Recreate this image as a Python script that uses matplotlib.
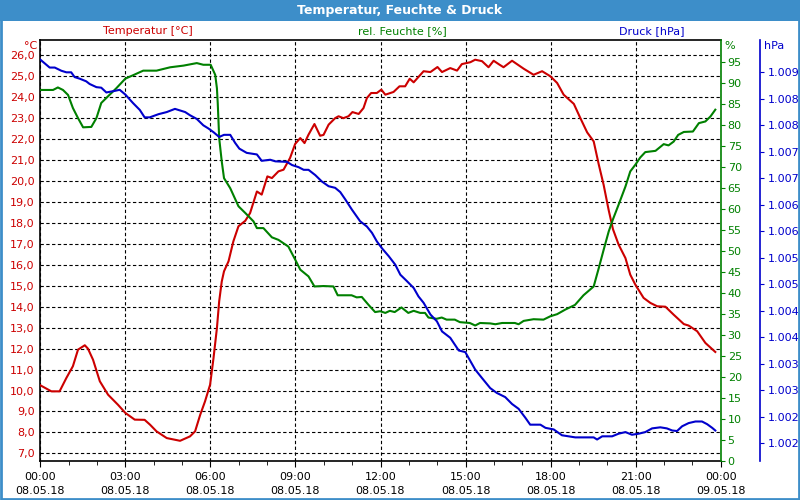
import matplotlib
matplotlib.use('Agg')
import matplotlib.pyplot as plt
from matplotlib.patches import Rectangle

# Temperatur [°C] (Stunden seit 00:00)
temp_hours = [0.0, 0.39, 0.68, 0.92, 1.15, 1.33, 1.57, 1.68, 1.86, 2.1, 2.39, 2.74, 3.0, 3.33,
              3.68, 3.87, 4.1, 4.46, 4.93, 5.28, 5.46, 5.64, 5.81, 5.99, 6.11, 6.23, 6.31, 6.4,
              6.48, 6.64, 6.81, 6.99, 7.23, 7.4, 7.64, 7.81, 8.01, 8.17, 8.4, 8.58, 8.81, 8.99,
              9.17, 9.32, 9.46, 9.67, 9.87, 9.99, 10.17, 10.4, 10.52, 10.69, 10.87, 11.01, 11.23,
              11.4, 11.52, 11.67, 11.87, 12.03, 12.17, 12.46, 12.67, 12.87, 13.03, 13.17, 13.52,
              13.76, 14.01, 14.17, 14.46, 14.7, 14.87, 15.17, 15.34, 15.58, 15.81, 15.99, 16.2,
              16.34, 16.64, 17.05, 17.4, 17.7, 17.99, 18.23, 18.46, 18.82, 19.05, 19.29, 19.52,
              19.7, 19.87, 20.05, 20.2, 20.4, 20.64, 20.81, 20.99, 21.28, 21.52, 21.76, 22.05,
              22.34, 22.7, 22.87, 23.17, 23.46, 23.81]
temp_values = [10.25, 9.96, 9.96, 10.6, 11.16, 11.95, 12.16, 12.0, 11.47, 10.44, 9.8, 9.32, 8.93, 8.61,
               8.6, 8.37, 8.05, 7.73, 7.6, 7.81, 8.05, 8.84, 9.48, 10.28, 11.55, 12.98, 14.26, 15.2,
               15.69, 16.17, 17.12, 17.84, 18.1, 18.47, 19.5, 19.35, 20.22, 20.14, 20.46, 20.54, 21.1, 21.77,
               22.05, 21.81, 22.21, 22.72, 22.16, 22.2, 22.69, 23.0, 23.09, 23.0, 23.09, 23.29, 23.2,
               23.48, 23.96, 24.2, 24.2, 24.36, 24.12, 24.25, 24.52, 24.52, 24.88, 24.71, 25.24,
               25.2, 25.44, 25.2, 25.39, 25.27, 25.58, 25.67, 25.79, 25.72, 25.43, 25.74, 25.55,
               25.43, 25.74, 25.36, 25.07, 25.24, 25.0, 24.68, 24.12, 23.68, 23.0, 22.32, 21.89,
               20.78, 19.82, 18.6, 17.7, 16.96, 16.32, 15.53, 15.05, 14.42, 14.18, 14.02, 14.0,
               13.62, 13.17, 13.1, 12.83, 12.27, 11.84]

# rel. Feuchte [%]
hum_hours = [0.0, 0.45, 0.62, 0.8, 0.98, 1.15, 1.33, 1.51, 1.8, 1.98, 2.15, 2.39, 2.68, 3.0, 3.27,
             3.63, 4.1, 4.58, 5.05, 5.52, 5.75, 6.01, 6.17, 6.23, 6.26, 6.31, 6.4, 6.48, 6.7, 6.99,
             7.23, 7.52, 7.64, 7.87, 8.17, 8.4, 8.75, 8.99, 9.17, 9.46, 9.67, 9.99, 10.34, 10.49,
             10.98, 11.16, 11.34, 11.58, 11.81, 11.99, 12.17, 12.33, 12.5, 12.74, 12.98, 13.17,
             13.4, 13.57, 13.69, 13.98, 14.16, 14.33, 14.62, 14.8, 15.15, 15.34, 15.51, 15.87,
             16.05, 16.29, 16.74, 16.87, 17.05, 17.4, 17.75, 17.99, 18.23, 18.52, 18.86, 19.16,
             19.52, 19.7, 19.87, 20.05, 20.2, 20.4, 20.64, 20.81, 20.99, 21.16, 21.34, 21.7,
             21.99, 22.16, 22.34, 22.5, 22.7, 23.02, 23.23, 23.46, 23.64, 23.81]
hum_values = [88.3, 88.3, 88.9, 88.3, 87.1, 84.0, 81.6, 79.4, 79.5, 81.6, 85.2, 86.8, 88.7, 91.0, 91.8,
              92.9, 92.9, 93.7, 94.1, 94.7, 94.3, 94.3, 91.9, 88.7, 85.0, 76.8, 71.3, 67.3, 64.9, 60.6,
              59.0, 57.0, 55.4, 55.4, 53.2, 52.6, 51.0, 47.9, 45.5, 43.9, 41.5, 41.6, 41.5, 39.4,
              39.4, 38.9, 39.0, 37.1, 35.4, 35.6, 35.2, 35.7, 35.4, 36.5, 35.2, 35.7,
              35.2, 35.2, 34.1, 33.8, 34.1, 33.6, 33.6, 33.0, 32.8, 32.2, 32.8, 32.7,
              32.5, 32.8, 32.8, 32.5, 33.3, 33.7, 33.6, 34.4, 34.9, 36.0, 37.1, 39.4,
              41.5, 45.9, 50.2, 54.6, 57.5, 61.0, 65.3, 68.9, 70.5, 72.2, 73.5, 73.8,
              75.4, 75.1, 76.0, 77.6, 78.3, 78.4, 80.4, 80.8, 82.0, 83.6]

# Druck [hPa]
press_hours = [0.0, 0.33, 0.51, 0.74, 0.92, 1.09, 1.21, 1.39, 1.62, 1.74, 1.98, 2.15, 2.33, 2.63, 2.8,
               3.0, 3.27, 3.51, 3.68, 3.86, 4.17, 4.46, 4.75, 4.93, 5.11, 5.28, 5.52, 5.75, 5.93,
               6.11, 6.31, 6.48, 6.7, 6.87, 7.02, 7.28, 7.64, 7.81, 8.11, 8.29, 8.7, 8.88, 9.11,
               9.29, 9.46, 9.7, 9.93, 10.17, 10.4, 10.58, 10.76, 10.99, 11.28, 11.52, 11.7, 11.87,
               12.05, 12.29, 12.52, 12.7, 12.93, 13.17, 13.34, 13.52, 13.76, 13.99, 14.17, 14.46,
               14.76, 14.99, 15.17, 15.34, 15.58, 15.87, 16.1, 16.4, 16.64, 16.87, 17.11, 17.28,
               17.64, 17.82, 18.11, 18.4, 18.87, 19.52, 19.64, 19.82, 20.17, 20.4, 20.64, 20.87,
               21.11, 21.34, 21.58, 21.87, 22.1, 22.29, 22.46, 22.64, 22.87, 23.11, 23.34, 23.52,
               23.7, 23.81]
press_values = [1009.24, 1009.09, 1009.09, 1009.03, 1009.0, 1009.0, 1008.91, 1008.88, 1008.83, 1008.78,
                1008.72, 1008.71, 1008.62, 1008.65, 1008.67, 1008.58, 1008.42, 1008.29, 1008.15,
                1008.15, 1008.21, 1008.25, 1008.31, 1008.28, 1008.25, 1008.19, 1008.12, 1008.0,
                1007.94, 1007.87, 1007.78, 1007.82, 1007.82, 1007.67, 1007.56, 1007.48, 1007.45,
                1007.33, 1007.35, 1007.32, 1007.31, 1007.25, 1007.21, 1007.16, 1007.16, 1007.06,
                1006.94, 1006.85, 1006.82, 1006.74, 1006.6, 1006.41, 1006.19, 1006.09, 1005.97,
                1005.81, 1005.68, 1005.53, 1005.37, 1005.18, 1005.06, 1004.93, 1004.77, 1004.65,
                1004.43, 1004.3, 1004.11, 1003.99, 1003.75, 1003.72, 1003.55, 1003.39, 1003.23,
                1003.04, 1002.95, 1002.87, 1002.74, 1002.65, 1002.48, 1002.35, 1002.35, 1002.29,
                1002.26, 1002.15, 1002.11, 1002.11, 1002.07, 1002.13, 1002.13, 1002.18, 1002.21,
                1002.16, 1002.18, 1002.21, 1002.28, 1002.3, 1002.28, 1002.24, 1002.23, 1002.32,
                1002.38, 1002.41, 1002.41, 1002.36, 1002.29, 1002.24]

x_ticks = [0, 3, 6, 9, 12, 15, 18, 21, 24]
x_labels = ['00:00\n08.05.18', '03:00\n08.05.18', '06:00\n08.05.18', '09:00\n08.05.18',
            '12:00\n08.05.18', '15:00\n08.05.18', '18:00\n08.05.18', '21:00\n08.05.18',
            '00:00\n09.05.18']
temp_ticks = list(range(7, 27))
temp_labels = ['%d,0' % t for t in temp_ticks]
hum_ticks = list(range(0, 100, 5))
press_ticks = [1002.0, 1002.5, 1003.0, 1003.5, 1004.0, 1004.5, 1005.0, 1005.5,
               1006.0, 1006.5, 1007.0, 1007.5, 1008.0, 1008.5, 1009.0]
press_labels = ['1.002', '1.002', '1.003', '1.003', '1.004', '1.004', '1.005', '1.005',
                '1.006', '1.006', '1.007', '1.007', '1.008', '1.008', '1.009']

RED = '#cc0000'
GREEN = '#008000'
BLUE = '#0000cc'
FRAME = '#3d8ec9'
W, H = 800, 500


def px(x, y):
    return x / W, 1 - y / H


fig = plt.figure(figsize=(8, 5), dpi=100)
ax = fig.add_axes([40.3 / W, 39.3 / H, 680.4 / W, 420.7 / H])

# Temperatur
ax.plot(temp_hours, temp_values, color=RED, linewidth=1.5, zorder=3)
ax.set_xlim(0, 24)
ax.set_ylim(6.65, 26.73)
ax.set_yticks(temp_ticks)
ax.set_yticklabels(temp_labels)
ax.tick_params(axis='y', colors=RED, length=0, pad=4, labelsize=8)
ax.set_xticks(x_ticks)
ax.set_xticklabels(x_labels, linespacing=1.55)
ax.set_xticks(range(25), minor=True)
ax.tick_params(axis='x', which='major', length=4, pad=4, labelsize=8, direction='out')
ax.tick_params(axis='x', which='minor', length=3, direction='out')
ax.grid(True, color='black', linestyle=(0, (3, 2.2)), linewidth=0.8)
for s in ['left', 'top', 'bottom']:
    ax.spines[s].set_linewidth(1.2)
ax.spines['right'].set_visible(False)

# Feuchte
ax2 = ax.twinx()
ax2.plot(hum_hours, hum_values, color=GREEN, linewidth=1.5)
ax2.set_ylim(0, 100.2)
ax2.set_yticks(hum_ticks)
ax2.tick_params(axis='y', colors=GREEN, length=3, pad=2, labelsize=8)
for s in ['left', 'top', 'bottom']:
    ax2.spines[s].set_visible(False)
ax2.spines['right'].set_color(GREEN)
ax2.spines['right'].set_linewidth(1.2)

# Druck
ax3 = ax.twinx()
ax3.plot(press_hours, press_values, color=BLUE, linewidth=1.5)
ax3.set_ylim(1001.67, 1009.61)
ax3.set_yticks(press_ticks)
ax3.set_yticklabels(press_labels)
ax3.spines['right'].set_position(('axes', 1 + 39.7 / 680.4))
ax3.tick_params(axis='y', colors=BLUE, length=3, pad=2, labelsize=8)
for s in ['left', 'top', 'bottom']:
    ax3.spines[s].set_visible(False)
ax3.spines['right'].set_color(BLUE)
ax3.spines['right'].set_linewidth(1.2)

# Titelleiste und Rahmen
fig.patches.append(Rectangle((0, 1 - 21 / H), 1, 21 / H, transform=fig.transFigure,
                             facecolor=FRAME, edgecolor='none'))
fig.patches.append(Rectangle((0.001, 0.002), 0.998, 0.996, transform=fig.transFigure,
                             fill=False, edgecolor=FRAME, linewidth=2))
fig.text(*px(400, 10.5), 'Temperatur, Feuchte & Druck', color='white', fontsize=9,
         fontweight='bold', ha='center', va='center')

fig.text(*px(148, 31), 'Temperatur [°C]', color=RED, fontsize=8, ha='center', va='center')
fig.text(*px(402, 31), 'rel. Feuchte [%]', color=GREEN, fontsize=8, ha='center', va='center')
fig.text(*px(652, 31), 'Druck [hPa]', color=BLUE, fontsize=8, ha='center', va='center')
fig.text(*px(37, 46), '°C', color=RED, fontsize=8, ha='right', va='center')
fig.text(*px(724, 46), '%', color=GREEN, fontsize=8, ha='left', va='center')
fig.text(*px(764, 46), 'hPa', color=BLUE, fontsize=8, ha='left', va='center')

plt.savefig('out.png', dpi=100)
